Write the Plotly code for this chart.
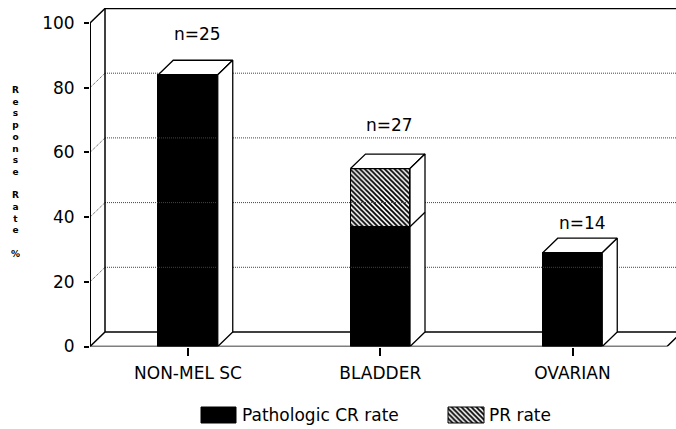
import plotly.graph_objects as go

# ---- data ----
categories = ["NON-MEL SC", "BLADDER", "OVARIAN"]
n_labels = ["n=25", "n=27", "n=14"]
cr_rate = [84, 37, 29]      # Pathologic CR rate (%)
pr_rate = [0, 18, 0]        # PR rate (%)
y_ticks = [0, 20, 40, 60, 80, 100]

# ---- geometry (figure pixels -> axis mapping) ----
W, H = 676, 429
PX_PER_CAT = 192.25
PX_PER_PCT = 3.235
X_LEFT_PX, CAT0_PX = 90, 188
Y_BOTTOM_PX, Y_TOP_PX = 346.5, 8
x0 = (X_LEFT_PX - CAT0_PX) / PX_PER_CAT
x1 = x0 + (W - X_LEFT_PX) / PX_PER_CAT
ytop = (Y_BOTTOM_PX - Y_TOP_PX) / PX_PER_PCT
DX = 15 / PX_PER_CAT
DY = 14.5 / PX_PER_PCT
BAR_W = 59.5 / PX_PER_CAT
x_floor_end = (667 - CAT0_PX) / PX_PER_CAT
xs = list(range(len(categories)))
totals = [c + p for c, p in zip(cr_rate, pr_rate)]

fig = go.Figure()

def line(xv, yv, color="black", width=1.5, dash="solid", xa="x", ya="y"):
    fig.add_trace(go.Scatter(x=xv, y=yv, mode="lines", xaxis=xa, yaxis=ya,
                             line=dict(color=color, width=width, dash=dash),
                             hoverinfo="skip", showlegend=False))

# grid lines on back wall and left wall
for v in y_ticks[1:-1]:
    line([x0 + DX, x1], [v + DY, v + DY], color="#444", width=1, dash="1px,1px")
    line([x0, x0 + DX], [v, v + DY], color="#444", width=1, dash="1px,1px")

# back wall & floor frame
line([x0 + DX, x0 + DX, x1], [DY, 100 + DY, 100 + DY], width=1.5)
line([x0, x0 + DX], [100, 100 + DY], width=1.5)
line([x0, x0 + DX], [0, DY], width=1.5)
line([x0 + DX, x1], [DY, DY], width=1.5)
line([x0, x_floor_end, x_floor_end + DX], [0, 0, DY], width=1.5)
# front y-axis line
line([x0, x0], [0, 100], width=2)

HATCH = dict(shape="\\", fgcolor="black", bgcolor="white", size=3.5, solidity=0.55, fillmode="replace")

# bars (front faces)
fig.add_trace(go.Bar(x=xs, y=cr_rate, width=BAR_W, name="Pathologic CR rate",
                     marker=dict(color="black", line=dict(color="black", width=1)),
                     showlegend=False, hoverinfo="skip"))
fig.add_trace(go.Bar(x=xs, y=pr_rate, base=cr_rate, width=BAR_W, name="PR rate",
                     marker=dict(color="white", line=dict(color="black", width=1), pattern=HATCH),
                     showlegend=False, hoverinfo="skip"))

# 3D top and side faces, built from the data
for i, (c, t) in enumerate(zip(cr_rate, totals)):
    xl, xr = i - BAR_W / 2, i + BAR_W / 2
    fig.add_trace(go.Scatter(x=[xl, xl + DX, xr + DX, xr, xl], y=[t, t + DY, t + DY, t, t],
                             fill="toself", fillcolor="white", mode="lines",
                             line=dict(color="black", width=1.3), hoverinfo="skip", showlegend=False))
    fig.add_trace(go.Scatter(x=[xr, xr + DX, xr + DX, xr, xr], y=[0, DY, t + DY, t, 0],
                             fill="toself", fillcolor="white", mode="lines",
                             line=dict(color="black", width=1.3), hoverinfo="skip", showlegend=False))
    if c < t:
        line([xr, xr + DX], [c, c + DY], width=1.3)

# n= labels
label_gap = [8.2, 9.1, 4.6]
annotations = []
for i, (lab, t) in enumerate(zip(n_labels, totals)):
    annotations.append(dict(x=i + 0.05, y=t + DY + label_gap[i], xref="x", yref="y",
                            text=lab, showarrow=False, xanchor="center", yanchor="middle",
                            font=dict(size=17, color="black", family="DejaVu Sans")))

# y-axis title (stacked letters)
title_txt = "<br>".join(list("Response")) + "<br><br>" + "<br>".join(list("Rate")) + "<br><br>%"
annotations.append(dict(x=15, y=172, xref="x2", yref="y2", text="<b>" + title_txt + "</b>",
                        showarrow=False, xanchor="center", yanchor="middle",
                        font=dict(size=9, color="black", family="DejaVu Sans")))

# custom legend
fig.add_trace(go.Scatter(x=[201, 236, 236, 201, 201], y=[407, 407, 423, 423, 407],
                         xaxis="x2", yaxis="y2", fill="toself", fillcolor="black", mode="lines",
                         line=dict(color="black", width=1), hoverinfo="skip", showlegend=False))
fig.add_trace(go.Scatter(x=[448, 484, 484, 448, 448], y=[407, 407, 423, 423, 407],
                         xaxis="x2", yaxis="y2", fill="toself", fillcolor="white", mode="lines",
                         fillpattern=HATCH,
                         line=dict(color="black", width=1), hoverinfo="skip", showlegend=False))
annotations.append(dict(x=240, y=415, xref="x2", yref="y2", text="Pathologic CR rate",
                        showarrow=False, xanchor="left", yanchor="middle",
                        font=dict(size=17, color="black", family="DejaVu Sans")))
annotations.append(dict(x=487, y=415, xref="x2", yref="y2", text="PR rate",
                        showarrow=False, xanchor="left", yanchor="middle",
                        font=dict(size=17, color="black", family="DejaVu Sans")))

fig.update_layout(
    width=W, height=H,
    margin=dict(l=0, r=0, t=0, b=0, autoexpand=False),
    paper_bgcolor="white", plot_bgcolor="rgba(0,0,0,0)",
    barmode="overlay", bargap=0,
    showlegend=False,
    font=dict(family="DejaVu Sans", color="black"),
    xaxis=dict(domain=[X_LEFT_PX / W, 1], range=[x0, x1], tickvals=xs, ticktext=categories,
               ticks="outside", ticklen=8, tickwidth=1.5, tickcolor="black",
               showgrid=False, zeroline=False, showline=False, automargin=False,
               tickfont=dict(size=17, family="DejaVu Sans", color="black"),
               ticklabelstandoff=3, anchor="y"),
    yaxis=dict(domain=[(H - Y_BOTTOM_PX) / H, (H - Y_TOP_PX) / H], range=[0, ytop],
               tickvals=y_ticks, ticks="outside", ticklen=5, tickwidth=1.5, tickcolor="black",
               showgrid=False, zeroline=False, showline=False, automargin=False,
               tickfont=dict(size=17, family="DejaVu Sans", color="black"),
               ticklabelstandoff=6, anchor="x"),
    xaxis2=dict(domain=[0, 1], range=[0, W], visible=False, anchor="y2", fixedrange=True,
                automargin=False),
    yaxis2=dict(domain=[0, 1], range=[H, 0], visible=False, anchor="x2", fixedrange=True,
                automargin=False),
    annotations=annotations,
)

fig.write_html("out.html")
